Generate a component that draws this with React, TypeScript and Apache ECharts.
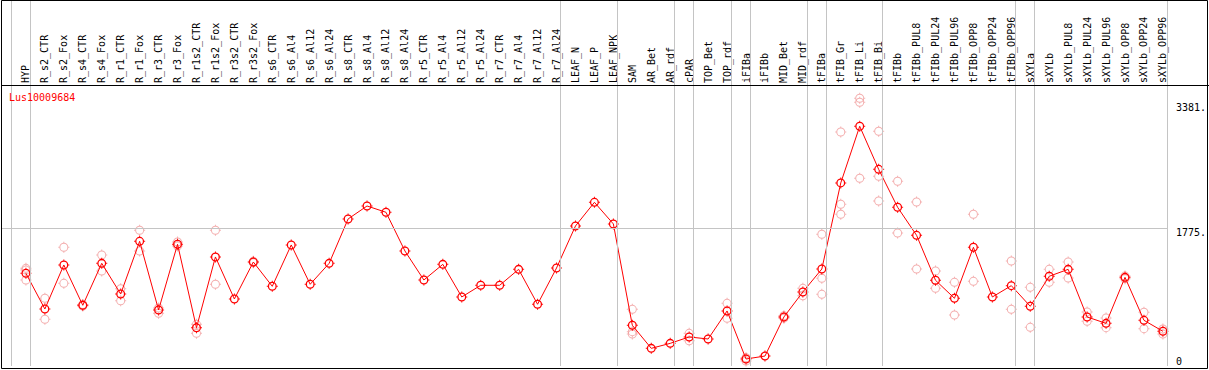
import React, { useEffect, useRef } from "react";
import * as echarts from "echarts";

const categories: string[] = [
  "HYP", "R_s2_CTR", "R_s2_Fox", "R_s4_CTR", "R_s4_Fox", "R_r1_CTR", "R_r1_Fox", "R_r3_CTR", "R_r3_Fox",
  "R_r1s2_CTR", "R_r1s2_Fox", "R_r3s2_CTR", "R_r3s2_Fox", "R_s6_CTR", "R_s6_Al4", "R_s6_Al12", "R_s6_Al24",
  "R_s8_CTR", "R_s8_Al4", "R_s8_Al12", "R_s8_Al24", "R_r5_CTR", "R_r5_Al4", "R_r5_Al12", "R_r5_Al24",
  "R_r7_CTR", "R_r7_Al4", "R_r7_Al12", "R_r7_Al24", "LEAF_N", "LEAF_P", "LEAF_NPK", "SAM", "AR_Bet", "AR_rdf",
  "cPAR", "TOP_Bet", "TOP_rdf", "iFIBa", "iFIBb", "MID_Bet", "MID_rdf", "tFIBa", "tFIB_Gr", "tFIB_Li", "tFIB_Bi",
  "tFIBb", "tFIBb_PUL8", "tFIBb_PUL24", "tFIBb_PUL96", "tFIBb_OPP8", "tFIBb_OPP24", "tFIBb_OPP96",
  "sXYLa", "sXYLb", "sXYLb_PUL8", "sXYLb_PUL24", "sXYLb_PUL96", "sXYLb_OPP8", "sXYLb_OPP24", "sXYLb_OPP96",
];

const means: number[] = [
  1191, 732, 1298, 780, 1319, 925, 1602, 720, 1564, 492, 1401, 861, 1336, 1024, 1555, 1050, 1319,
  1889, 2056, 1975, 1478, 1105, 1306, 887, 1037, 1037, 1242, 793, 1259, 1799, 2103, 1825, 523, 227, 291,
  373, 347, 707, 90, 128, 630, 951, 1246, 2352, 3080, 2527, 2039, 1679, 1101, 870, 1525, 887, 1032,
  767, 1153, 1242, 630, 548, 1139, 587, 446,
];

const rep1: (number | null)[] = [
  1255, 870, 1525, 790, 1426, 994, 1744, 745, 1593, 535, 1744, null, 1345, null, null, null, null,
  null, null, null, null, null, null, null, null, null, null, null, null, null, null, null, 728, null, null,
  420, null, 805, 107, null, 645, 998, 1692, 3007, 3440, 3016, 2373, 2107, 1221, 1075, 1949, null, 1349,
  1011, 1242, 1336, 694, 617, 1155, 690, 475,
];
const rep2: (number | null)[] = [
  1234, 600, 1062, 770, 1221, 839, 1478, 677, 1542, 420, 1050, null, 1328, null, null, null, null,
  null, null, null, null, null, null, null, null, null, null, null, null, null, null, null, 441, null, null,
  325, null, 613, 64, null, 615, 903, 1127, 2078, 3389, 2437, 1709, 1246, 998, 655, 1088, null, 728,
  497, 1075, 1131, 574, 493, 1120, 480, 411,
];
const rep3: (number | null)[] = [
  1105, null, null, null, null, null, null, null, null, null, null, null, null, null, null, null, null,
  null, null, null, null, null, null, null, null, null, null, null, null, null, null, null, 411, null, null,
  null, null, null, null, null, null, null, 921, 1949, 2412, 2120, null, null, null, null, null, null, null,
  null, null, null, null, null, null, null, null,
];

// categories that start a new group (separator drawn at their left edge); 61 = right end
const groupStarts: number[] = [0, 1, 29, 32, 35, 36, 38, 39, 42, 43, 46, 53, 54, 61];

const yLabels: number[] = [1775, 3381];
const gridLineValue = 1775;
const seriesTitle = "Lus10009684";

const MONO = "'DejaVu Sans Mono', monospace";

const meanSymbol =
  "path://M1 5.5 A4.5 4.5 0 1 1 10 5.5 A4.5 4.5 0 1 1 1 5.5 Z " +
  "M2.3 5.5 A3.2 3.2 0 1 0 8.7 5.5 A3.2 3.2 0 1 0 2.3 5.5 Z " +
  "M5 0 L6 0 L6 1 L5 1 Z M5 10 L6 10 L6 11 L5 11 Z M0 5 L1 5 L1 6 L0 6 Z M10 5 L11 5 L11 6 L10 6 Z";
const repSymbol =
  "path://M1 5.5 A4.5 4.5 0 1 1 10 5.5 A4.5 4.5 0 1 1 1 5.5 Z " +
  "M2 5.5 A3.5 3.5 0 1 0 9 5.5 A3.5 3.5 0 1 0 2 5.5 Z " +
  "M5 0 L6 0 L6 1 L5 1 Z M5 10 L6 10 L6 11 L5 11 Z M0 5 L1 5 L1 6 L0 6 Z M10 5 L11 5 L11 6 L10 6 Z";

export default function App() {
  const ref = useRef<HTMLDivElement>(null);
  useEffect(() => {
    if (!ref.current) return;
    const chart = echarts.init(ref.current, null, { renderer: "svg" });
    const step = 19;
    const xMin = -24 / step;
    const xMax = xMin + 1169 / step;
    const yMax = 366 / 0.077834;

    const repData: [number, number][] = [];
    [rep1, rep2, rep3].forEach((arr) =>
      arr.forEach((v, i) => {
        if (v !== null) repData.push([i, v]);
      })
    );

    chart.setOption({
      animation: false,
      backgroundColor: "#ffffff",
      title: {
        text: seriesTitle,
        left: 9,
        top: 92,
        padding: 0,
        textStyle: { color: "#ff0000", fontSize: 10, fontWeight: "normal", fontFamily: MONO },
      },
      grid: { left: 2, right: 38, top: 0, bottom: 4 },
      xAxis: {
        type: "value",
        min: xMin,
        max: xMax,
        position: "top",
        offset: -85,
        axisLine: { show: false },
        axisTick: { show: false },
        splitLine: { show: false },
        axisLabel: {
          show: true,
          customValues: categories.map((_, i) => i),
          formatter: (v: number) => categories[Math.round(v)] ?? "",
          rotate: 90,
          margin: 2,
          fontSize: 10,
          fontFamily: MONO,
          color: "#000000",
        },
      },
      yAxis: [
        {
          type: "value",
          min: 0,
          max: yMax,
          position: "right",
          axisLine: { show: false },
          axisTick: { show: false },
          splitLine: { show: false },
          axisLabel: {
            customValues: yLabels,
            formatter: (v: number) => `${v}.`,
            verticalAlign: "top",
            align: "left",
            margin: 8,
            fontSize: 10,
            fontFamily: MONO,
            color: "#000000",
          },
        },
        {
          type: "value",
          min: 0,
          max: yMax,
          position: "right",
          axisLine: { show: false },
          axisTick: { show: false },
          splitLine: { show: false },
          axisLabel: {
            customValues: [0],
            formatter: (v: number) => `${v}`,
            verticalAlign: "bottom",
            align: "left",
            margin: 8,
            fontSize: 10,
            fontFamily: MONO,
            color: "#000000",
          },
        },
      ],
      series: [
        {
          type: "scatter",
          name: "guides",
          data: [],
          silent: true,
          markLine: {
            silent: true,
            symbol: "none",
            label: { show: false },
            lineStyle: { color: "#c4c4c4", width: 1, type: "solid" },
            data: [
              ...groupStarts.map((k) => ({ xAxis: k - 15 / step })),
              { yAxis: gridLineValue },
            ],
          },
        },
        {
          type: "scatter",
          name: "replicates",
          data: repData,
          symbol: repSymbol,
          symbolSize: 11,
          itemStyle: { color: "#f09a9a", borderWidth: 0 },
          z: 3,
        },
        {
          type: "line",
          name: "mean",
          data: means.map((v, i) => [i, v]),
          symbol: meanSymbol,
          symbolSize: 11,
          showAllSymbol: true,
          itemStyle: { color: "#ff0000", borderWidth: 0 },
          lineStyle: { color: "#ff0000", width: 1 },
          z: 4,
        },
      ],
      graphic: [
        {
          type: "rect",
          shape: { x: 1.5, y: 0.5, width: 1206, height: 368 },
          style: { fill: "none", stroke: "#000000", lineWidth: 1 },
          silent: true,
          z: 10,
        },
        {
          type: "line",
          shape: { x1: 1, y1: 85.5, x2: 1209, y2: 85.5 },
          style: { stroke: "#000000", lineWidth: 1 },
          silent: true,
          z: 10,
        },
      ],
    });
    return () => chart.dispose();
  }, []);
  return (
    <div
      ref={ref}
      style={{ position: "absolute", left: 0, top: 0, width: 1209, height: 370 }}
    />
  );
}
